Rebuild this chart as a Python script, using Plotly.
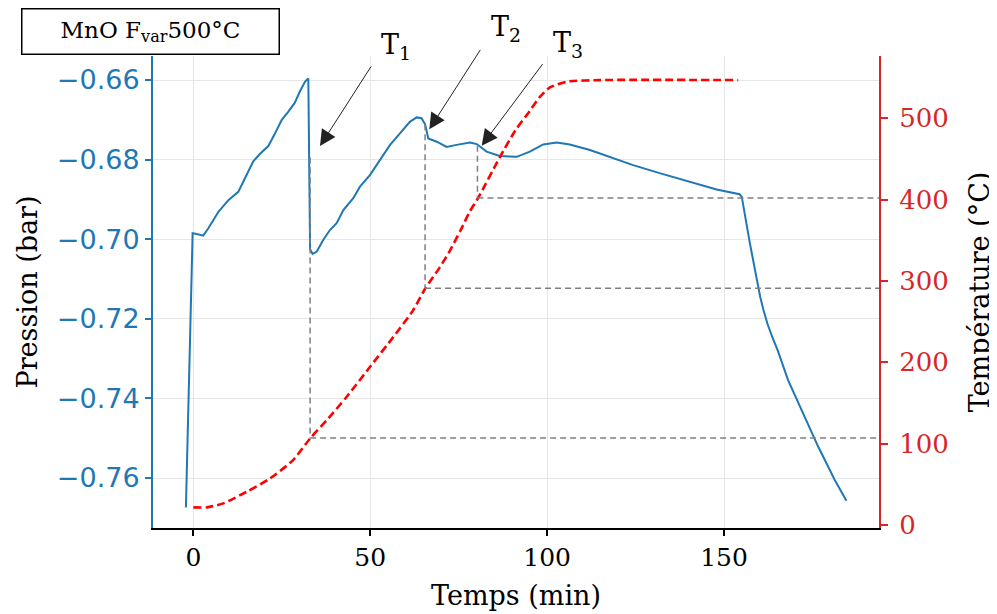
import plotly.graph_objects as go

# ---------------- data ----------------
time_p = [-2.1, -0.2, 1.0, 2.8, 4.2, 7.1, 9.9, 12.7, 14.6, 16.9, 18.8, 21.2, 23.1, 25.0,
          26.8, 28.7, 30.1, 31.6, 32.5, 33.0, 33.7, 34.9, 36.7, 38.6, 40.5, 42.4, 45.2,
          47.1, 49.9, 52.7, 55.6, 58.4, 61.2, 63.1, 64.5, 65.5, 66.4, 68.8, 71.6, 74.4,
          78.2, 80.1, 82.9, 86.6, 91.4, 95.1, 98.9, 102.7, 106.4, 112.1, 120.5, 124.3,
          131.8, 139.4, 147.9, 154.4, 155.0, 157.3, 159.2, 160.2, 161.2, 162.3, 163.6,
          165.2, 168.1, 172.3, 176.6, 181.3, 184.6]
pression = [-0.7674, -0.6985, -0.6987, -0.6991, -0.6973, -0.6931, -0.6902, -0.6881, -0.6847,
            -0.6805, -0.6786, -0.6766, -0.6734, -0.6700, -0.6680, -0.6657, -0.6629, -0.6604,
            -0.6596, -0.7025, -0.7037, -0.7031, -0.7002, -0.6977, -0.6960, -0.6927, -0.6897,
            -0.6868, -0.6839, -0.6801, -0.6763, -0.6734, -0.6705, -0.6694, -0.6696, -0.6711,
            -0.6747, -0.6755, -0.6768, -0.6763, -0.6757, -0.6761, -0.6780, -0.6791, -0.6793,
            -0.6780, -0.6762, -0.6757, -0.6762, -0.6776, -0.6801, -0.6814, -0.6834, -0.6853,
            -0.6875, -0.6887, -0.6893, -0.7010, -0.7103, -0.7144, -0.7180, -0.7213, -0.7245,
            -0.7280, -0.7354, -0.7437, -0.7521, -0.7605, -0.7657]

time_T = [0, 3.8, 8.5, 15.1, 21.7, 28.2, 33.0, 37.7, 43.3, 49.9, 56.5, 62.1, 65.5, 69.7,
          72.5, 75.5, 78.2, 80.5, 86.6, 91.0, 95.1, 97.9, 100.8, 105.5, 115.0, 154.0]
temperature = [21.7, 21.7, 26.6, 40.9, 57.3, 79.8, 106.4, 128.8, 157.4, 194.2, 231, 263.8,
               290.4, 317, 337, 362, 386, 402, 452, 485, 509, 526, 538, 545, 547, 547]

mark_labels = ["T<sub>1</sub>", "T<sub>2</sub>", "T<sub>3</sub>"]
mark_time = [33.0, 65.5, 80.3]
mark_p_top = [-0.6795, -0.6711, -0.6765]
mark_temp = [107, 291, 402]
arrow_time = [35.8, 66.7, 81.5]
arrow_p = [-0.6766, -0.6724, -0.6765]

x_ticks = [0, 50, 100, 150]
p_ticks = [-0.76, -0.74, -0.72, -0.70, -0.68, -0.66]
t_ticks = [0, 100, 200, 300, 400, 500]

x_range = [-11.4, 193.8]
p_range = [-0.77256, -0.65397]
t_range = [-3.7, 576.6]

BLUE = "#1f77b4"
RED_AX = "#d62728"


def temp_to_p(t):
    return p_range[0] + (t - t_range[0]) / (t_range[1] - t_range[0]) * (p_range[1] - p_range[0])


fig = go.Figure()
fig.add_trace(go.Scatter(x=time_p, y=pression, mode="lines",
                         line=dict(color=BLUE, width=2), showlegend=False))
fig.add_trace(go.Scatter(x=time_T, y=temperature, mode="lines", yaxis="y2",
                         line=dict(color="#ff0000", width=2.6, dash="8px,4px", shape="spline",
                                   smoothing=0.6),
                         showlegend=False))

shapes = []
for xm, pt, tm in zip(mark_time, mark_p_top, mark_temp):
    shapes.append(dict(type="line", xref="x", yref="y", x0=xm, x1=xm, y0=pt, y1=temp_to_p(tm),
                       line=dict(color="#7f7f7f", width=1.5, dash="6px,4px")))
    shapes.append(dict(type="line", xref="x", yref="y2", x0=xm, x1=x_range[1], y0=tm, y1=tm,
                       line=dict(color="#7f7f7f", width=1.5, dash="6px,4px")))

annotations = [
    dict(text="MnO F<sub>var</sub>500°C", xref="paper", yref="paper", x=-0.0028, y=1.052,
         xanchor="center", yanchor="middle", showarrow=False, width=256, height=44,
         bordercolor="black", borderwidth=1.5, borderpad=0, bgcolor="white",
         font=dict(family="DejaVu Serif", size=23, color="black")),
]
arrow_off = [(52, -81), (52, -81), (62, -83)]
for xa, pa, (ax, ay) in zip(arrow_time, arrow_p, arrow_off):
    annotations.append(dict(text="", x=xa, y=pa, xref="x", yref="y", showarrow=True,
                            ax=ax, ay=ay, arrowhead=2, arrowsize=3.2, arrowwidth=1,
                            arrowcolor="#222222"))
label_pos = [(0.3347, 1.020), (0.4865, 1.058), (0.5716, 1.024)]
for txt, (lx, ly) in zip(mark_labels, label_pos):
    annotations.append(dict(text=txt, xref="paper", yref="paper", x=lx, y=ly,
                            xanchor="center", yanchor="middle", showarrow=False,
                            font=dict(family="DejaVu Serif", size=27, color="black")))

fig.update_layout(
    width=997, height=614,
    margin=dict(l=145, r=126, t=48, b=94, autoexpand=False),
    paper_bgcolor="white", plot_bgcolor="white",
    shapes=shapes, annotations=annotations,
    xaxis=dict(range=x_range, tickvals=x_ticks, ticks="outside", ticklen=6, tickwidth=1.5,
               tickcolor="black", showline=True, linecolor="black", linewidth=2,
               showgrid=True, gridcolor="#e6e6e6", gridwidth=1, zeroline=False,
               tickfont=dict(family="DejaVu Serif", size=25, color="black"),
               title=dict(text="Temps (min)", standoff=15,
                          font=dict(family="DejaVu Serif", size=27, color="black")),
               automargin=False),
    yaxis=dict(range=p_range, tickvals=p_ticks, tickformat=".2f", ticks="outside", ticklen=6,
               tickwidth=1.5, tickcolor=BLUE, showline=True, linecolor=BLUE, linewidth=2,
               showgrid=True, gridcolor="#e6e6e6", gridwidth=1, zeroline=False,
               tickfont=dict(family="DejaVu Sans", size=27, color=BLUE),
               title=dict(text="Pression (bar)", standoff=11,
                          font=dict(family="DejaVu Serif", size=27, color="black")),
               automargin=False),
    yaxis2=dict(range=t_range, tickvals=t_ticks, overlaying="y", side="right", ticks="outside",
                ticklen=7, tickwidth=1.5, tickcolor=RED_AX, showline=True, linecolor=RED_AX,
                linewidth=2, showgrid=False, zeroline=False, ticklabelstandoff=6,
                tickfont=dict(family="DejaVu Serif", size=26, color=RED_AX),
                title=dict(text="Température (°C)", standoff=22,
                           font=dict(family="DejaVu Serif", size=27, color="black")),
                automargin=False),
)

fig.write_html("out.html")
